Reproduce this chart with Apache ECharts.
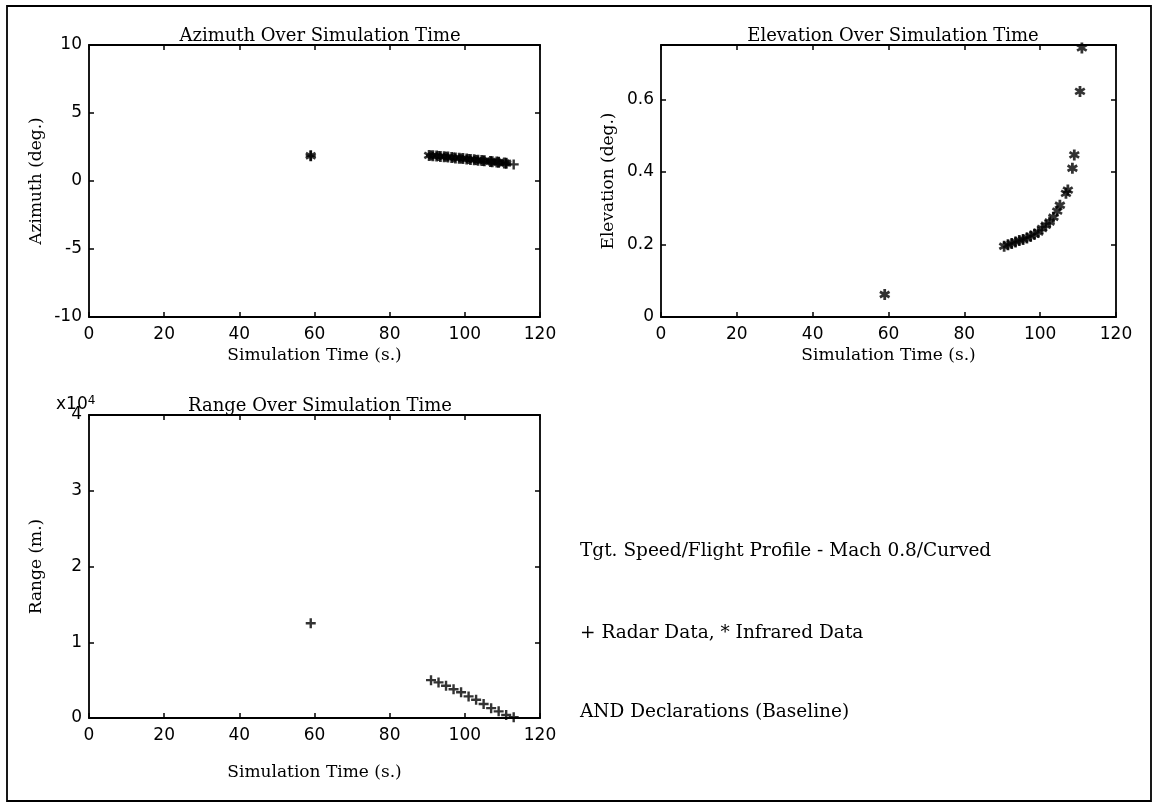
<!DOCTYPE html>
<html>
<head>
<meta charset="utf-8">
<script src="https://cdn.jsdelivr.net/npm/echarts@6/dist/echarts.min.js"></script>
<style>
html,body{margin:0;padding:0;background:#fff;}
#c{width:1158px;height:807px;}
</style>
</head>
<body>
<div id="c"></div>
<script>
// ---- data ----
const xTicks = [0, 20, 40, 60, 80, 100, 120];
const radarTimes = [59, 91, 93, 95, 97, 99, 101, 103, 105, 107, 109, 111, 113];
const radarAzimuth = [1.86, 1.88, 1.83, 1.78, 1.72, 1.66, 1.61, 1.55, 1.49, 1.43, 1.37, 1.30, 1.22];
const radarRange = [12500, 5000, 4700, 4250, 3800, 3400, 2850, 2400, 1850, 1300, 880, 400, 100];
const irTimes = [59, 90.5, 91.5, 92.5, 93.5, 94.5, 95.5, 96.5, 97.5, 98.5, 99.5, 100.5, 101.5, 102.5, 103.5, 104.5, 105.2, 106.8, 107.3, 108.5, 109, 110.5, 111];
const irAzimuth = [1.86, 1.88, 1.86, 1.84, 1.81, 1.79, 1.76, 1.73, 1.70, 1.68, 1.65, 1.62, 1.59, 1.56, 1.53, 1.50, 1.48, 1.44, 1.42, 1.39, 1.37, 1.33, 1.31];
const irElevation = [0.062, 0.195, 0.199, 0.203, 0.207, 0.211, 0.214, 0.218, 0.223, 0.228, 0.234, 0.244, 0.253, 0.262, 0.275, 0.292, 0.308, 0.341, 0.350, 0.410, 0.447, 0.622, 0.742];
const titles = ['Azimuth Over Simulation Time', 'Elevation Over Simulation Time', 'Range Over Simulation Time'];
const yNames = ['Azimuth (deg.)', 'Elevation (deg.)', 'Range (m.)'];
const xName = 'Simulation Time (s.)';
const notes = ['Tgt. Speed/Flight Profile - Mach 0.8/Curved', '+ Radar Data, * Infrared Data', 'AND Declarations (Baseline)'];

// ---- styling helpers ----
const SERIF = '"DejaVu Serif", "Liberation Serif", serif';
const SANS = '"DejaVu Sans", "Liberation Sans", sans-serif';
function star() {
  let p = '';
  for (let k = 0; k < 3; k++) {
    const a = k * Math.PI / 3 + Math.PI / 2;
    const c = Math.cos(a), s = Math.sin(a), w = 1.25;
    const px = -s * w, py = c * w;
    const pts = [[5 * c + px, 5 * s + py], [-5 * c + px, -5 * s + py], [-5 * c - px, -5 * s - py], [5 * c - px, 5 * s - py]];
    p += 'M' + pts.map(q => q[0].toFixed(2) + ',' + q[1].toFixed(2)).join('L') + 'Z';
  }
  return 'path://' + p;
}
const STAR = star();
const PLUS = 'path://M-1.2,-5L1.2,-5L1.2,5L-1.2,5ZM-5,-1.2L5,-1.2L5,1.2L-5,1.2Z';
const pairs = (t, v) => t.map((x, i) => [x, v[i]]);

const grids = [
  {left: 89, top: 45, width: 451, height: 272},
  {left: 661, top: 45, width: 455, height: 272},
  {left: 89, top: 415, width: 451, height: 303}
];
const xNameGaps = [30, 30, 46];
const yCfg = [
  {min: -10, max: 10, interval: 5, fmt: v => String(v)},
  {min: 0, max: 0.75, interval: 0.2, fmt: v => (v === 0 ? '0' : String(+v.toFixed(1)))},
  {min: 0, max: 40000, interval: 10000, fmt: v => String(v / 10000)}
];
const line = {show: true, onZero: false, lineStyle: {color: '#000', width: 1.8}};
const tick = {show: true, inside: true, length: 5, lineStyle: {color: '#000', width: 1.5}};

const xAxis = [], yAxis = [];
grids.forEach((g, i) => {
  xAxis.push({gridIndex: i, type: 'value', position: 'bottom', min: 0, max: 120, interval: 20,
    axisLine: line, axisTick: tick, splitLine: {show: false},
    axisLabel: {color: '#000', fontFamily: SANS, fontSize: 17, margin: 9},
    name: xName, nameLocation: 'middle', nameGap: xNameGaps[i],
    nameTextStyle: {color: '#000', fontFamily: SERIF, fontSize: 17}});
  xAxis.push({gridIndex: i, type: 'value', position: 'top', min: 0, max: 120, interval: 20,
    axisLine: line, axisTick: tick, splitLine: {show: false}, axisLabel: {show: false}});
  const y = yCfg[i];
  yAxis.push({gridIndex: i, type: 'value', position: 'left', min: y.min, max: y.max, interval: y.interval,
    axisLine: line, axisTick: tick, splitLine: {show: false},
    axisLabel: {color: '#000', fontFamily: SANS, fontSize: 17, margin: 7, formatter: y.fmt, showMaxLabel: i !== 1},
    name: yNames[i], nameLocation: 'middle', nameGap: 44,
    nameTextStyle: {color: '#000', fontFamily: SERIF, fontSize: 17}});
  yAxis.push({gridIndex: i, type: 'value', position: 'right', min: y.min, max: y.max, interval: y.interval,
    axisLine: line, axisTick: tick, splitLine: {show: false}, axisLabel: {show: false}});
});

const mk = (name, sym, size, xi, yi, data) => ({
  name, type: 'scatter', xAxisIndex: xi, yAxisIndex: yi, symbol: sym, symbolSize: size,
  itemStyle: {color: '#000'}, data, silent: true, animation: false
});

const titleStyle = {fontFamily: SERIF, fontSize: 18, fontWeight: 'normal', color: '#000'};
const option = {
  backgroundColor: '#fff',
  animation: false,
  title: [
    {text: titles[0], left: 315, top: 22, textAlign: 'center', textStyle: titleStyle},
    {text: titles[1], left: 888, top: 22, textAlign: 'center', textStyle: titleStyle},
    {text: titles[2], left: 315, top: 392, textAlign: 'center', textStyle: titleStyle}
  ],
  grid: grids,
  xAxis, yAxis,
  series: [
    mk('Radar Azimuth', PLUS, 10, 0, 0, pairs(radarTimes, radarAzimuth)),
    mk('IR Azimuth', STAR, 11, 0, 0, pairs(irTimes, irAzimuth)),
    mk('IR Elevation', STAR, 11, 2, 2, pairs(irTimes, irElevation)),
    mk('Radar Range', PLUS, 10, 4, 4, pairs(radarTimes, radarRange))
  ],
  graphic: [
    {type: 'rect', shape: {x: 7, y: 6, width: 1144, height: 795}, style: {fill: 'none', stroke: '#000', lineWidth: 1.8}, silent: true},
    {type: 'text', left: 56, top: 395, style: {text: 'x10{s|4}', fill: '#000', font: '17px ' + SANS,
      rich: {s: {fontSize: 12, verticalAlign: 'top', fontFamily: SANS, padding: [0, 0, 8, 0]}}}},
    {type: 'text', left: 580, top: 542, style: {text: notes[0], fill: '#000', font: '18.5px ' + SERIF}},
    {type: 'text', left: 580, top: 624, style: {text: notes[1], fill: '#000', font: '18.5px ' + SERIF}},
    {type: 'text', left: 580, top: 703, style: {text: notes[2], fill: '#000', font: '18.5px ' + SERIF}}
  ]
};
const chart = echarts.init(document.getElementById('c'), null, {renderer: 'canvas'});
chart.setOption(option);
</script>
</body>
</html>
